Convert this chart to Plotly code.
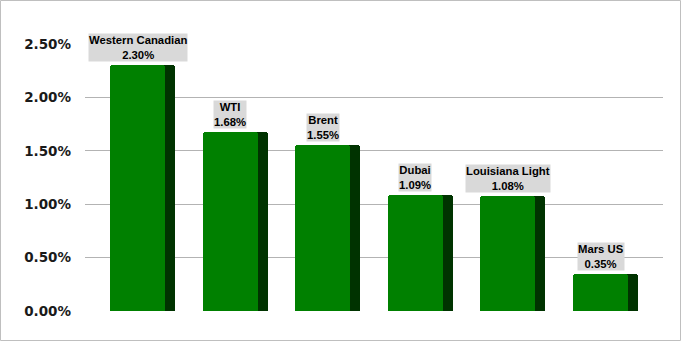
import plotly.graph_objects as go

categories = ["Western Canadian", "WTI", "Brent", "Dubai", "Louisiana Light", "Mars US"]
values_pct = [2.30, 1.68, 1.55, 1.09, 1.08, 0.35]
tick_vals_pct = [0.0, 0.5, 1.0, 1.5, 2.0, 2.5]

vals = [v / 100 for v in values_pct]
xs = list(range(len(categories)))
tick_vals = [t / 100 for t in tick_vals_pct]
tick_text = [f"{t:.2f}%" for t in tick_vals_pct]

W, H = 681, 341
ml, mr, mt, mb = 85, 18, 44, 30
pw, ph = W - ml - mr, H - mt - mb

front_w = 0.594
side_w = 0.108

fig = go.Figure()
fig.add_trace(go.Bar(
    x=xs, y=vals, width=front_w + side_w, offset=-front_w / 2,
    marker=dict(color="#003300", line=dict(width=0), cornerradius=3),
    hoverinfo="skip", showlegend=False,
))
fig.add_trace(go.Bar(
    x=xs, y=vals, width=front_w, offset=-front_w / 2,
    marker=dict(color="#008000", line=dict(width=0), cornerradius=3),
    hoverinfo="skip", showlegend=False,
))

annotations = []
for x, c, v in zip(xs, categories, values_pct):
    annotations.append(dict(
        x=x, y=v / 100, xref="x", yref="y",
        text=f"{c}<br>{v:.2f}%", showarrow=False,
        yanchor="bottom", xanchor="center", yshift=3,
        bgcolor="#d9d9d9", borderpad=0,
        font=dict(family="Liberation Sans, Arial", size=11.3, color="#000000", weight="bold"),
    ))

xmin = -0.567
xmax = xmin + pw / 92.6

fig.update_layout(
    width=W, height=H,
    margin=dict(l=ml, r=mr, t=mt, b=mb),
    paper_bgcolor="white", plot_bgcolor="white",
    barmode="overlay", bargap=0,
    xaxis=dict(range=[xmin, xmax], showticklabels=False, showgrid=False,
               zeroline=False, showline=False, ticks=""),
    yaxis=dict(range=[0, 0.025], tickvals=tick_vals, ticktext=tick_text,
               showgrid=True, gridcolor="#b3b3b3", gridwidth=1,
               zeroline=False, showline=False, ticks="",
               ticklabelstandoff=13,
               tickfont=dict(family="DejaVu Sans", size=13.5, color="#1a1a1a", weight="bold")),
    annotations=annotations,
    shapes=[dict(type="rect", xref="paper", yref="paper",
                 x0=(-ml + 0.5) / pw, x1=(pw + mr - 0.5) / pw,
                 y0=(-mb + 0.5) / ph, y1=(ph + mt - 0.5) / ph,
                 line=dict(color="#bfbfbf", width=1), fillcolor="rgba(0,0,0,0)",
                 layer="below")],
)

fig.write_html("out.html")
